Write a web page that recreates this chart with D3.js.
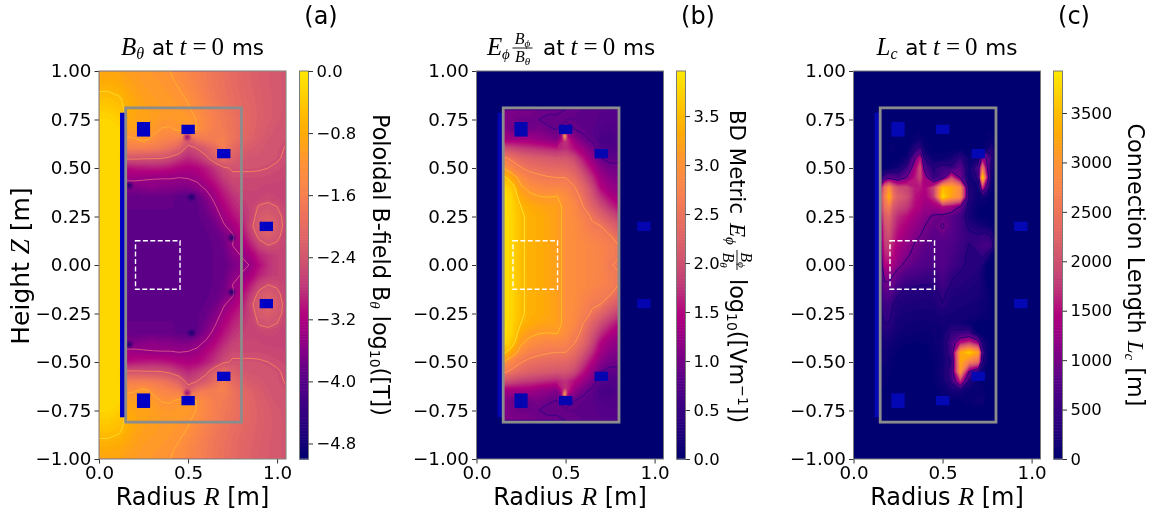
<!DOCTYPE html>
<html>
<head>
<meta charset="utf-8">
<script src="https://cdn.jsdelivr.net/npm/d3@7"></script>
<style>
  html, body { margin: 0; padding: 0; background: #fff; }
  svg { display: block; }
  text { font-family: "DejaVu Sans", sans-serif; fill: #000; }
  .math { font-family: "Liberation Serif", serif; font-style: italic; }
  .mathup { font-family: "Liberation Serif", serif; }
</style>
</head>
<body>
<div id="chart"></div>
<script>
// Axis ticks
const rTicks = [0, 0.5, 1.0];
const zTicks = [-1, -0.75, -0.5, -0.25, 0, 0.25, 0.5, 0.75, 1];
const cbarTicksA = [0, -0.8, -1.6, -2.4, -3.2, -4.0, -4.8];
const cbarTicksB = [0, 0.5, 1, 1.5, 2, 2.5, 3, 3.5];
const cbarTicksC = [0, 500, 1000, 1500, 2000, 2500, 3000, 3500];

// Colormap
const cmapPos = [0, 0.1, 0.2, 0.3, 0.37, 0.45, 0.52, 0.6, 0.68, 0.76, 0.84, 0.92, 1];
const cmapCol = ["#000070", "#2d0080", "#550088", "#8f0085", "#b0007e", "#c03a78", "#d2566f",
                 "#e66a62", "#f77f50", "#ff9238", "#ffaa05", "#ffc800", "#ffe800"];

// Machine geometry [m]: [Rmin, Rmax, Zmin, Zmax]
const coils = [
  [0.213, 0.287, 0.662, 0.737], [0.463, 0.538, 0.675, 0.723], [0.663, 0.738, 0.550, 0.598], [0.902, 0.977, 0.175, 0.223],
  [0.213, 0.287, -0.737, -0.662], [0.463, 0.538, -0.723, -0.675], [0.663, 0.738, -0.598, -0.550], [0.902, 0.977, -0.223, -0.175]
];
const solenoid = [0.118, 0.147, -0.785, 0.785];
const vessel = [0.15, 0.80, -0.81, 0.81];
const roi = [0.205, 0.455, -0.125, 0.125];

// Panel (a): log10 B_theta, upper half (Z = 1.00 down to 0.00, mirrored below)
const rGridA = [0, 0.05, 0.115, 0.147, 0.2, 0.25, 0.3, 0.35, 0.4, 0.45, 0.5, 0.55, 0.6, 0.65, 0.7, 0.75, 0.8, 0.85, 0.9, 0.95, 1.0, 1.05];
const fieldA = [
  [-.85,-.85,-.88,-.95,-1.0,-1.05,-1.08,-1.12,-1.18,-1.28,-1.42,-1.52,-1.65,-1.76,-1.86,-1.96,-2.05,-2.14,-2.22,-2.28,-2.33,-2.38],
  [-.75,-.76,-.80,-.88,-.95,-1.02,-1.06,-1.08,-1.14,-1.24,-1.38,-1.50,-1.63,-1.75,-1.85,-1.95,-2.05,-2.14,-2.22,-2.28,-2.33,-2.38],
  [-.62,-.62,-.68,-.78,-.90,-.98,-1.02,-1.05,-1.09,-1.17,-1.32,-1.45,-1.60,-1.72,-1.83,-1.93,-2.03,-2.12,-2.20,-2.27,-2.33,-2.38],
  [-.45,-.45,-.55,-.68,-.84,-.93,-.98,-1.02,-1.05,-1.10,-1.20,-1.38,-1.55,-1.68,-1.80,-1.90,-2.00,-2.10,-2.18,-2.26,-2.32,-2.38],
  [-.30,-.30,-.42,-.65,-.82,-.90,-.96,-1.00,-1.03,-1.06,-1.14,-1.27,-1.45,-1.60,-1.72,-1.85,-1.97,-2.07,-2.17,-2.25,-2.32,-2.38],
  [-.20,-.20,-.28,-.78,-.86,-.86,-.96,-1.05,-1.08,-1.05,-1.03,-1.20,-1.40,-1.55,-1.68,-1.80,-1.95,-2.06,-2.17,-2.26,-2.33,-2.40],
  [-.18,-.18,-.20,-1.0,-.95,-.85,-1.02,-1.20,-1.22,-1.10,-.92,-1.20,-1.42,-1.58,-1.65,-1.78,-1.95,-2.08,-2.20,-2.30,-2.38,-2.44],
  [-.18,-.18,-.20,-1.25,-1.2,-1.05,-1.25,-1.40,-1.50,-1.60,-2.2,-1.75,-1.62,-1.58,-1.55,-1.78,-1.98,-2.12,-2.25,-2.35,-2.40,-2.43],
  [-.18,-.18,-.20,-1.60,-1.6,-1.6,-1.65,-1.75,-1.90,-2.15,-2.6,-2.45,-2.25,-1.95,-1.6,-1.95,-2.15,-2.28,-2.33,-2.38,-2.42,-2.46],
  [-.18,-.18,-.20,-2.40,-2.40,-2.42,-2.43,-2.44,-2.55,-2.72,-2.85,-2.75,-2.55,-2.2,-1.9,-2.15,-2.3,-2.38,-2.38,-2.40,-2.43,-2.48],
  [-.18,-.18,-.20,-3.05,-2.98,-2.95,-2.92,-2.95,-3.0,-3.1,-3.15,-3.1,-2.95,-2.75,-2.50,-2.42,-2.42,-2.42,-2.43,-2.45,-2.48,-2.52],
  [-.18,-.18,-.20,-3.3,-3.3,-3.35,-3.38,-3.38,-3.38,-3.4,-3.38,-3.32,-3.1,-2.9,-2.68,-2.5,-2.5,-2.5,-2.5,-2.52,-2.55,-2.57],
  [-.18,-.18,-.20,-3.6,-3.6,-3.55,-3.5,-3.55,-3.55,-3.6,-3.6,-3.5,-3.35,-3.1,-2.85,-2.65,-2.55,-2.55,-2.57,-2.6,-2.6,-2.62],
  [-.18,-.18,-.20,-3.8,-3.85,-3.8,-3.8,-3.8,-3.82,-3.88,-3.95,-3.85,-3.55,-3.3,-3.0,-2.8,-2.65,-2.6,-2.58,-2.54,-2.57,-2.62],
  [-.18,-.18,-.20,-3.85,-3.85,-3.85,-3.85,-3.85,-3.85,-3.87,-3.88,-3.88,-3.7,-3.45,-3.15,-2.9,-2.75,-2.6,-2.42,-2.38,-2.45,-2.58],
  [-.18,-.18,-.20,-3.88,-3.88,-3.88,-3.88,-3.88,-3.88,-3.88,-3.88,-3.88,-3.8,-3.6,-3.3,-3.05,-2.85,-2.62,-2.3,-2.2,-2.35,-2.55],
  [-.18,-.18,-.20,-3.9,-3.9,-3.9,-3.9,-3.9,-3.9,-3.9,-3.9,-3.9,-3.85,-3.75,-3.45,-3.25,-3.0,-2.55,-2.2,-1.95,-2.25,-2.58],
  [-.18,-.18,-.20,-3.9,-3.9,-3.9,-3.9,-3.9,-3.9,-3.9,-3.9,-3.9,-3.88,-3.82,-3.7,-3.45,-3.1,-2.72,-2.35,-2.2,-2.38,-2.58],
  [-.18,-.18,-.20,-3.9,-3.9,-3.9,-3.9,-3.9,-3.9,-3.9,-3.9,-3.9,-3.88,-3.85,-3.75,-3.4,-3.25,-2.95,-2.6,-2.46,-2.5,-2.6],
  [-.18,-.18,-.20,-3.9,-3.9,-3.9,-3.9,-3.9,-3.9,-3.9,-3.9,-3.9,-3.88,-3.85,-3.8,-3.55,-3.38,-3.2,-2.9,-2.75,-2.65,-2.6],
  [-.18,-.18,-.20,-3.9,-3.9,-3.9,-3.9,-3.9,-3.9,-3.9,-3.9,-3.9,-3.88,-3.85,-3.85,-3.65,-3.5,-3.38,-3.05,-2.8,-2.65,-2.6]
];
const levelsA = [-0.6, -1.18, -2.45, -3.4];
const levelColA = ["#ffd826", "#ffb02c", "#f0805c", "#cf4f88"];
// small field nulls too narrow for the grid
const spotsA = [[0.17, 0.41, "#10006e"], [0.52, 0.35, "#10006e"], [0.745, 0.14, "#10006e"],
                [0.17, -0.41, "#10006e"], [0.52, -0.35, "#10006e"], [0.745, -0.14, "#10006e"],
                [0.495, 0.66, "#8a0085"], [0.495, -0.66, "#8a0085"]];

// Panel (b): BD metric, upper half of the vessel (Z = 0.80 down to 0.00)
const rGridB = [0.15, 0.2, 0.25, 0.3, 0.35, 0.4, 0.45, 0.5, 0.55, 0.6, 0.65, 0.7, 0.75, 0.8];
const fieldB = [
  [1.10,1.10,1.08,1.05,1.02,1.00,.98,.95,.92,.90,.88,.85,.85,.85],
  [1.15,1.05,1.00,1.00,.95,.90,.92,.90,.90,.90,.88,.82,.80,.82],
  [1.20,1.00,1.00,1.02,1.08,.98,.94,1.20,.95,.90,.85,.78,.75,.78],
  [1.35,1.35,1.35,1.35,1.25,1.20,1.10,1.80,1.25,1.00,.90,.70,.70,.75],
  [2.05,1.95,1.85,1.80,1.75,1.70,1.65,1.75,1.55,1.30,1.05,.82,.75,.80],
  [2.70,2.50,2.35,2.25,2.20,2.15,2.10,2.10,1.95,1.60,1.25,.95,.88,.90],
  [3.10,2.85,2.62,2.50,2.45,2.40,2.38,2.36,2.20,1.85,1.50,1.15,1.02,1.00],
  [3.60,3.30,2.95,2.75,2.68,2.63,2.60,2.60,2.45,2.10,1.75,1.35,1.15,1.10],
  [3.85,3.65,3.15,3.00,2.90,2.85,2.85,2.80,2.62,2.35,1.95,1.50,1.30,1.20],
  [3.90,3.78,3.32,3.18,3.12,3.10,3.12,2.98,2.75,2.50,2.10,1.75,1.50,1.35],
  [3.90,3.80,3.50,3.36,3.30,3.25,3.22,3.00,2.90,2.60,2.30,2.00,1.75,1.55],
  [3.90,3.82,3.55,3.42,3.38,3.30,3.22,3.00,2.92,2.75,2.55,2.30,2.05,1.85],
  [3.90,3.82,3.55,3.42,3.38,3.30,3.22,3.00,2.95,2.80,2.65,2.60,2.35,2.15],
  [3.90,3.82,3.55,3.42,3.38,3.30,3.22,3.00,2.95,2.85,2.75,2.70,2.62,2.40],
  [3.90,3.82,3.55,3.42,3.38,3.30,3.22,3.00,2.95,2.90,2.85,2.78,2.70,2.60],
  [3.90,3.82,3.55,3.42,3.38,3.30,3.22,3.00,2.95,2.90,2.85,2.80,2.70,2.62],
  [3.90,3.82,3.55,3.42,3.38,3.30,3.22,3.00,2.95,2.90,2.85,2.80,2.62,2.55]
];
const levelsB = [0.95, 2.6, 3.1, 3.5];
const levelColB = ["#3a0088", "#ff9c48", "#ffbc22", "#ffe030"];
const spotsB = [[0.495, 0.665, "#ffb347"], [0.495, -0.665, "#ffb347"]];

// Panel (c): connection length, whole vessel (Z = 0.80 down to -0.80)
const rGridC = [0.15, 0.175, 0.2, 0.225, 0.25, 0.3, 0.35, 0.375, 0.4, 0.45, 0.5, 0.55, 0.6, 0.65, 0.7, 0.725, 0.75, 0.775, 0.8];
const fieldC = [
  [0,0,0,0,0,0,0,0,0,0,0,0,0,0,0,0,0,0,0],
  [0,0,0,0,0,0,0,0,0,0,0,0,0,0,0,0,0,0,0],
  [0,0,10,10,0,0,20,30,20,10,10,10,10,10,10,20,60,40,0],
  [30,30,20,20,20,20,100,120,60,30,30,30,30,30,30,30,60,80,30],
  [0,0,80,100,40,0,400,550,120,20,30,30,40,30,20,50,120,300,60],
  [0,0,20,20,20,150,1100,1600,400,100,100,200,500,100,200,1300,1000,500,50],
  [20,30,60,120,200,550,1500,2000,800,400,600,500,850,150,700,2600,1100,300,20],
  [300,700,900,850,700,1100,1650,1900,1350,450,800,2000,1000,150,500,3800,1500,200,20],
  [1300,2500,3000,2300,2000,1900,1600,1600,1450,1900,3500,3300,2900,300,150,1800,700,100,10],
  [1700,2700,3400,2500,2200,2000,1550,1500,1400,1800,3800,3200,2900,350,100,200,100,50,10],
  [1500,2500,2700,2100,1950,1800,1500,1450,1300,1300,1500,1350,1000,250,60,30,30,20,10],
  [1300,2200,2300,1900,1700,1550,1350,1250,1150,1000,950,850,650,200,60,30,30,20,10],
  [1100,2000,2100,1800,1600,1400,1200,1150,1050,900,1100,850,650,350,250,200,150,100,20],
  [1000,1900,2000,1700,1500,1300,1100,1050,950,850,900,800,650,500,450,500,500,400,20],
  [900,1800,1850,1600,1400,1200,1000,950,880,800,800,750,600,400,600,650,680,600,50],
  [800,1650,1700,1500,1300,1100,930,870,820,760,800,700,550,350,400,500,350,100,20],
  [700,1500,1500,1350,1150,950,850,800,770,730,800,650,500,350,350,250,30,30,10],
  [550,1200,1200,1050,900,750,680,620,600,520,720,480,380,340,300,150,30,30,10],
  [500,1000,1000,900,720,500,450,440,430,430,620,400,340,300,270,200,60,40,10],
  [450,800,800,650,450,340,320,300,300,310,480,300,280,260,240,180,120,60,10],
  [400,600,600,400,300,280,260,260,260,260,420,260,240,220,200,150,120,60,10],
  [380,500,500,350,250,220,200,200,200,210,250,220,200,180,170,130,100,60,10],
  [300,430,420,300,200,170,160,150,150,160,180,200,170,80,30,30,40,50,10],
  [220,300,280,220,160,130,110,100,100,120,150,500,550,600,50,20,30,40,10],
  [180,220,180,130,90,60,50,50,60,110,200,700,1500,1800,1300,300,100,40,10],
  [130,160,120,80,50,30,20,20,25,70,180,650,3300,3700,3200,700,100,30,10],
  [100,130,90,50,30,15,10,10,15,60,150,450,3300,2700,2400,450,80,20,10],
  [80,100,60,30,10,10,10,10,15,60,200,600,3100,1000,500,100,40,20,10],
  [60,70,40,20,5,5,5,5,15,50,150,500,1700,350,90,40,30,20,10],
  [50,50,30,10,5,5,5,5,10,30,80,200,200,100,90,70,40,20,10],
  [30,30,20,10,5,5,5,5,10,20,50,50,50,100,150,150,30,10,10],
  [10,10,5,5,0,0,0,0,0,0,0,0,0,10,10,10,0,0,0],
  [0,0,0,0,0,0,0,0,0,0,0,0,0,0,0,0,0,0,0]
];
const levelsC = [420, 1050];
const levelColC = ["#14006e", "#22007a"];

const width = 1153, height = 515;
const plotTop = 71, plotBottom = 459;

const svg = d3.select("#chart").append("svg")
  .attr("width", width)
  .attr("height", height)
  .attr("viewBox", `0 0 ${width} ${height}`)
  .style("filter", "blur(0.4px)");
const defs = svg.append("defs");

const colorOf = d3.scaleLinear().domain(cmapPos).range(cmapCol).clamp(true);
const y = d3.scaleLinear().domain([-1, 1]).range([plotBottom, plotTop]);

// mirror the upper half rows onto the lower half
function mirrorRows(rows) {
  return rows.concat(rows.slice(0, -1).reverse());
}

function drawField(g, x, rGrid, rows, zTop, zBottom, lo, hi, levels, levelCols) {
  const ny = rows.length, nx = rGrid.length;
  const values = rows.flat();
  const rOf = d3.scaleLinear().domain(d3.range(nx)).range(rGrid).clamp(true);
  const zOf = d3.scaleLinear().domain([0, ny - 1]).range([zTop, zBottom]).clamp(true);
  const path = d3.geoPath(d3.geoTransform({
    point(px, py) { this.stream.point(x(rOf(px - 0.5)), y(zOf(py - 0.5))); }
  }));
  const contours = d3.contours().size([nx, ny]);
  const norm = d3.scaleLinear().domain([lo, hi]).range([0, 1]);

  // filled bands
  g.selectAll("path.band")
    .data(contours.thresholds(d3.range(lo, hi, (hi - lo) / 70))(values))
    .join("path")
    .attr("class", "band")
    .attr("d", path)
    .attr("fill", d => colorOf(norm(d.value)));

  // thin contour lines
  g.selectAll("path.line")
    .data(contours.thresholds(levels)(values))
    .join("path")
    .attr("class", "line")
    .attr("d", path)
    .attr("fill", "none")
    .attr("stroke", d => levelCols[levels.indexOf(d.value)])
    .attr("stroke-width", 1);
}

function drawSpots(g, x, spots, rx, ry) {
  spots.forEach((s, i) => {
    const id = "spot" + (g.attr("data-name")) + i;
    const grad = defs.append("radialGradient").attr("id", id);
    grad.append("stop").attr("offset", "0%").attr("stop-color", s[2]).attr("stop-opacity", 0.9);
    grad.append("stop").attr("offset", "45%").attr("stop-color", s[2]).attr("stop-opacity", 0.45);
    grad.append("stop").attr("offset", "100%").attr("stop-color", s[2]).attr("stop-opacity", 0);
    g.append("ellipse")
      .attr("cx", x(s[0])).attr("cy", y(s[1]))
      .attr("rx", rx).attr("ry", ry)
      .attr("fill", `url(#${id})`);
  });
}

function drawMachine(g, x, coilCol) {
  const rect = b => g.append("rect")
    .attr("x", x(b[0])).attr("width", x(b[1]) - x(b[0]))
    .attr("y", y(b[3])).attr("height", y(b[2]) - y(b[3]));
  rect(solenoid).attr("fill", coilCol);
  coils.forEach(c => rect(c).attr("fill", coilCol));
  rect(vessel).attr("fill", "none").attr("stroke", "#8c8c8c").attr("stroke-width", 2.8);
  rect(roi).attr("fill", "none").attr("stroke", "#fff").attr("stroke-width", 1.4).attr("stroke-dasharray", "5,2.4");
}

function drawAxes(svgSel, x, x0, x1) {
  const tickFont = "18.3px";
  const ax = svgSel.append("g").attr("transform", `translate(0,${plotBottom})`)
    .call(d3.axisBottom(x).tickValues(rTicks).tickFormat(d3.format(".1f")).tickSize(4.5).tickPadding(3));
  const ay = svgSel.append("g").attr("transform", `translate(${x0},0)`)
    .call(d3.axisLeft(y).tickValues(zTicks).tickFormat(d3.format(".2f")).tickSize(4.5).tickPadding(3));
  [ax, ay].forEach(a => {
    a.selectAll("text").attr("font-size", tickFont).style("font-family", "'DejaVu Sans'");
    a.selectAll("line").attr("stroke", "#333").attr("stroke-width", 1);
    a.select(".domain").remove();
  });
  svgSel.append("rect")
    .attr("x", x0).attr("y", plotTop)
    .attr("width", x1 - x0).attr("height", plotBottom - plotTop)
    .attr("fill", "none").attr("stroke", "#7a7a7a").attr("stroke-width", 1);
}

function drawColorbar(svgSel, cx0, cx1, lo, hi, ticks, fmt) {
  const c = d3.scaleLinear().domain([lo, hi]).range([plotBottom, plotTop]);
  const n = 256;
  svgSel.append("g").selectAll("rect")
    .data(d3.range(n))
    .join("rect")
    .attr("x", cx0).attr("width", cx1 - cx0)
    .attr("y", i => c(lo + (hi - lo) * (i + 1) / n))
    .attr("height", (plotBottom - plotTop) / n + 0.6)
    .attr("fill", i => colorOf((i + 0.5) / n));
  svgSel.append("rect")
    .attr("x", cx0).attr("y", plotTop).attr("width", cx1 - cx0).attr("height", plotBottom - plotTop)
    .attr("fill", "none").attr("stroke", "#7a7a7a").attr("stroke-width", 1);
  const a = svgSel.append("g").attr("transform", `translate(${cx1},0)`)
    .call(d3.axisRight(c).tickValues(ticks).tickFormat(d3.format(fmt)).tickSize(4.5).tickPadding(3.5));
  a.selectAll("text").attr("font-size", "16.4px").style("font-family", "'DejaVu Sans'");
  a.selectAll("line").attr("stroke", "#333");
  a.select(".domain").remove();
}

// one text run: [string, class, size, dy, dx]
function addRuns(sel, runs) {
  runs.forEach(r => {
    const t = sel.append("tspan").text(r[0]);
    if (r[1]) t.attr("class", r[1]);
    if (r[2]) t.attr("font-size", r[2]);
    if (r[3]) t.attr("dy", r[3]);
    if (r[4]) t.attr("dx", r[4]);
  });
}

function panel(opts) {
  const x = d3.scaleLinear().domain([0, 1.05]).range([opts.x0, opts.x1]);
  const clipId = "clip" + opts.name;
  defs.append("clipPath").attr("id", clipId).append("rect")
    .attr("x", opts.x0).attr("y", plotTop).attr("width", opts.x1 - opts.x0).attr("height", plotBottom - plotTop);
  const g = svg.append("g").attr("clip-path", `url(#${clipId})`).attr("data-name", opts.name);
  g.append("rect")
    .attr("x", opts.x0).attr("y", plotTop).attr("width", opts.x1 - opts.x0).attr("height", plotBottom - plotTop)
    .attr("fill", colorOf(0));
  drawField(g, x, opts.rGrid, opts.rows, opts.zTop, opts.zBottom, opts.lo, opts.hi, opts.levels, opts.levelCols);
  if (opts.spots) drawSpots(g, x, opts.spots, opts.spotRx, opts.spotRy);
  drawMachine(g, x, opts.coilCol);
  drawAxes(svg, x, opts.x0, opts.x1);
  drawColorbar(svg, opts.cx0, opts.cx1, opts.lo, opts.hi, opts.ticks, opts.fmt);

  svg.append("text").attr("x", opts.tag[0]).attr("y", 24)
    .attr("text-anchor", "middle").attr("font-size", "24px").text(opts.tag[1]);
  const xl = svg.append("text").attr("x", opts.mid).attr("y", 505)
    .attr("text-anchor", "middle").attr("font-size", "24px");
  addRuns(xl, [["Radius "], ["R", "math", "26px"], [" [m]"]]);
}

panel({
  name: "a", x0: 99, x1: 286, cx0: 299.5, cx1: 308.5, mid: 192.5, tag: [321, "(a)"],
  rGrid: rGridA, rows: mirrorRows(fieldA), zTop: 1, zBottom: -1, lo: -5, hi: 0,
  levels: levelsA, levelCols: levelColA, spots: spotsA, spotRx: 5, spotRy: 5,
  coilCol: "#0000c4", ticks: cbarTicksA, fmt: ".1f"
});
panel({
  name: "b", x0: 476.5, x1: 663.5, cx0: 676.5, cx1: 685.5, mid: 570, tag: [698, "(b)"],
  rGrid: rGridB, rows: mirrorRows(fieldB), zTop: 0.8, zBottom: -0.8, lo: 0, hi: 3.96,
  levels: levelsB, levelCols: levelColB, spots: spotsB, spotRx: 3.5, spotRy: 6,
  coilCol: "#0404b0", ticks: cbarTicksB, fmt: ".1f"
});
panel({
  name: "c", x0: 853.5, x1: 1040.5, cx0: 1053.5, cx1: 1062.5, mid: 947, tag: [1074, "(c)"],
  rGrid: rGridC, rows: fieldC, zTop: 0.8, zBottom: -0.8, lo: 0, hi: 3925,
  levels: levelsC, levelCols: levelColC,
  coilCol: "#0408b4", ticks: cbarTicksC, fmt: "d"
});

// Titles
const titleFont = "21.5px";
const titleMath = "25px";
function atZero(sel) {
  addRuns(sel, [["t", "math", titleMath, 0, 6], ["=", "mathup", titleMath, 0, 6], ["0", "mathup", titleMath, 0, 5], [" ms", null, titleFont, 0, 1]]);
}
const t1 = svg.append("text").attr("x", 192.5).attr("y", 55).attr("text-anchor", "middle").attr("font-size", titleFont);
addRuns(t1, [["B", "math", titleMath], ["θ", "math", "16px", 4], [" at", null, titleFont, -4, 1]]);
atZero(t1);
const t3 = svg.append("text").attr("x", 947).attr("y", 55).attr("text-anchor", "middle").attr("font-size", titleFont);
addRuns(t3, [["L", "math", titleMath], ["c", "math", "16px", 4], [" at", null, titleFont, -4, 1]]);
atZero(t3);

// E_phi B_phi/B_theta as a small stacked fraction
function fraction(g, fx, fy) {
  const top = g.append("text").attr("x", fx).attr("y", fy - 4).attr("text-anchor", "middle").attr("font-size", "16px").attr("class", "math");
  addRuns(top, [["B"], ["ϕ", "math", "11px", 3]]);
  g.append("line").attr("x1", fx - 10).attr("x2", fx + 10).attr("y1", fy).attr("y2", fy).attr("stroke", "#000").attr("stroke-width", 0.9);
  const bot = g.append("text").attr("x", fx).attr("y", fy + 14).attr("text-anchor", "middle").attr("font-size", "16px").attr("class", "math");
  addRuns(bot, [["B"], ["θ", "math", "11px", 3]]);
}
svg.append("text").attr("x", 487).attr("y", 55).attr("font-size", titleMath).attr("class", "math").text("E");
svg.append("text").attr("x", 502).attr("y", 59).attr("font-size", "15px").attr("class", "math").text("ϕ");
fraction(svg.append("g"), 522.5, 48);
const t2 = svg.append("text").attr("x", 543).attr("y", 55).attr("font-size", titleFont);
addRuns(t2, [["at"]]);
atZero(t2);

// Y label, only on the first panel
const yl = svg.append("text")
  .attr("transform", "translate(29,266) rotate(-90)")
  .attr("text-anchor", "middle").attr("font-size", "25px");
addRuns(yl, [["Height "], ["Z", "math", "27px"], [" [m]"]]);

// Colorbar labels
const cl1 = svg.append("text")
  .attr("transform", "translate(373,265) rotate(90)")
  .attr("text-anchor", "middle").attr("font-size", "22.3px");
addRuns(cl1, [["Poloidal B-field "], ["B", null, "22.3px"], ["θ", "math", "15px", 3], [" log", null, "22.3px", -3], ["10", null, "14px", 3], ["([T])", null, "22.3px", -3]]);

const cl2 = svg.append("g").attr("transform", "translate(730,265) rotate(90)");
cl2.append("text").attr("x", -155).attr("y", 0).attr("font-size", "21.3px").text("BD Metric");
cl2.append("text").attr("x", -42).attr("y", 0).attr("font-size", "23px").attr("class", "math").text("E");
cl2.append("text").attr("x", -28).attr("y", 4).attr("font-size", "15px").attr("class", "math").text("ϕ");
fraction(cl2, -5, -7);
const cl2b = cl2.append("text").attr("x", 14).attr("y", 0).attr("font-size", "22.3px");
addRuns(cl2b, [["log"], ["10", null, "14px", 3], ["([Vm", null, "22.3px", -3], ["−1", null, "14px", -8], ["])", null, "22.3px", 8]]);

const cl3 = svg.append("text")
  .attr("transform", "translate(1128,265) rotate(90)")
  .attr("text-anchor", "middle").attr("font-size", "22.3px");
addRuns(cl3, [["Connection Length "], ["L", "math", "23px"], ["c", "math", "15px", 3], [" [m]", null, "22.3px", -3]]);
</script>
</body>
</html>
